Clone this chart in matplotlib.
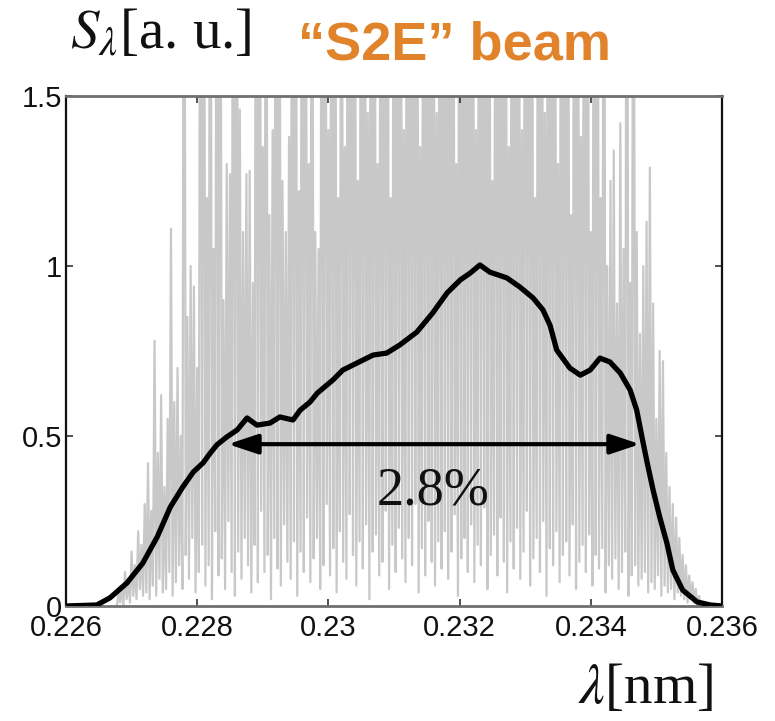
import numpy as np
import matplotlib
matplotlib.use("Agg")
import matplotlib.pyplot as plt

plt.rcParams['mathtext.fontset'] = 'stix'

# ---------------- data ----------------
xticks = [0.226, 0.228, 0.230, 0.232, 0.234, 0.236]
xtick_labels = ['0.226', '0.228', '0.23', '0.232', '0.234', '0.236']
yticks = [0, 0.5, 1.0, 1.5]
ytick_labels = ['0', '0.5', '1', '1.5']

# smoothed spectrum (black curve)
env_x = [0.22600, 0.22647, 0.22667, 0.22693, 0.22717, 0.22739, 0.22759, 0.22778,
         0.22794, 0.22809, 0.22820, 0.22830, 0.22845, 0.22861, 0.22876, 0.22891,
         0.22911, 0.22926, 0.22946, 0.22957, 0.22972, 0.22983, 0.23007, 0.23022,
         0.23044, 0.23068, 0.23089, 0.23109, 0.23135, 0.23159, 0.23181, 0.23201,
         0.23216, 0.23231, 0.23246, 0.23272, 0.23292, 0.23312, 0.23327, 0.23338,
         0.23348, 0.23368, 0.23384, 0.23399, 0.23414, 0.23429, 0.23445, 0.23460,
         0.23470, 0.23478, 0.23486, 0.23495, 0.23505, 0.23516, 0.23525, 0.23540,
         0.23562, 0.23582, 0.23600]
env_y = [0.000, 0.003, 0.024, 0.068, 0.126, 0.203, 0.291, 0.350,
         0.394, 0.421, 0.450, 0.474, 0.497, 0.518, 0.553, 0.532,
         0.538, 0.556, 0.547, 0.576, 0.600, 0.626, 0.665, 0.694,
         0.715, 0.738, 0.744, 0.768, 0.806, 0.862, 0.921, 0.959,
         0.979, 1.003, 0.982, 0.965, 0.938, 0.906, 0.871, 0.825,
         0.753, 0.700, 0.679, 0.694, 0.729, 0.718, 0.685, 0.635,
         0.576, 0.497, 0.421, 0.341, 0.262, 0.185, 0.106, 0.047,
         0.012, 0.003, 0.000]

# single-shot spiky spectrum (gray): spike peaks and the valleys between them
spike_start = 0.22680
spike_step = 0.00005
spike_peaks = [
    0.04, 0.06, 0.10, 0.08, 0.16, 0.12, 0.22, 0.18, 0.30, 0.42,
    0.28, 0.78, 0.45, 0.62, 0.35, 0.55, 1.11, 0.60, 0.70, 0.50,
    3.0, 0.85, 1.00, 0.94, 0.70, 3.0, 3.0, 1.20, 3.0, 1.05,
    3.0, 3.0, 0.90, 1.30, 1.27, 3.0, 3.0, 1.46, 1.10, 1.27,
    1.28, 0.95, 3.0, 3.0, 1.35, 3.0, 1.15, 1.40, 3.0, 3.0,
    1.25, 1.10, 1.38, 3.0, 3.0, 1.22, 3.0, 3.0, 1.30, 3.0,
    1.10, 1.05, 3.0, 3.0, 1.40, 3.0, 3.0, 1.20, 3.0, 1.35,
    3.0, 3.0, 3.0, 1.25, 3.0, 3.0, 1.45, 3.0, 3.0, 1.30,
    3.0, 3.0, 3.0, 1.20, 3.0, 3.0, 3.0, 1.40, 3.0, 3.0,
    3.0, 3.0, 1.35, 3.0, 3.0, 3.0, 3.0, 1.45, 3.0, 3.0,
    3.0, 3.0, 3.0, 1.30, 3.0, 3.0, 3.0, 3.0, 3.0, 1.40,
    3.0, 3.0, 3.0, 3.0, 1.25, 3.0, 3.0, 3.0, 3.0, 1.35,
    3.0, 3.0, 3.0, 1.40, 3.0, 3.0, 3.0, 1.20, 3.0, 3.0,
    1.45, 3.0, 3.0, 3.0, 1.30, 3.0, 3.0, 3.0, 1.15, 3.0,
    3.0, 1.38, 3.0, 3.0, 1.10, 3.0, 3.0, 1.20, 3.0, 1.00,
    1.25, 1.34, 0.89, 1.42, 1.05, 3.0, 0.95, 3.0, 1.10, 0.80,
    1.00, 1.13, 1.29, 0.89, 0.55, 0.75, 0.72, 0.45, 0.35, 0.30,
    0.26, 0.20, 0.15, 0.12, 0.09, 0.07, 0.05, 0.03]
spike_valleys = [
    0.00, 0.01, 0.00, 0.02, 0.01, 0.03, 0.02, 0.05, 0.03, 0.04,
    0.02, 0.06, 0.03, 0.08, 0.04, 0.05, 0.10, 0.03, 0.07, 0.12,
    0.05, 0.15, 0.08, 0.20, 0.04, 0.10, 0.18, 0.06, 0.12, 0.02,
    0.22, 0.09, 0.14, 0.05, 0.25, 0.10, 0.03, 0.16, 0.08, 0.20,
    0.12, 0.04, 0.18, 0.07, 0.28, 0.10, 0.15, 0.02, 0.20, 0.11,
    0.06, 0.24, 0.13, 0.08, 0.19, 0.03, 0.16, 0.10, 0.26, 0.07,
    0.14, 0.20, 0.05, 0.12, 0.30, 0.09, 0.17, 0.04, 0.22, 0.13,
    0.08, 0.27, 0.15, 0.06, 0.19, 0.11, 0.24, 0.02, 0.16, 0.21,
    0.09, 0.13, 0.28, 0.05, 0.18, 0.10, 0.23, 0.14, 0.07, 0.20,
    0.12, 0.30, 0.04, 0.17, 0.09, 0.25, 0.13, 0.06, 0.19, 0.11,
    0.22, 0.08, 0.16, 0.27, 0.03, 0.14, 0.20, 0.10, 0.24, 0.07,
    0.18, 0.12, 0.29, 0.05, 0.15, 0.21, 0.09, 0.26, 0.13, 0.04,
    0.19, 0.11, 0.23, 0.08, 0.16, 0.28, 0.06, 0.14, 0.20, 0.10,
    0.25, 0.03, 0.17, 0.12, 0.22, 0.07, 0.15, 0.19, 0.09, 0.24,
    0.05, 0.13, 0.18, 0.10, 0.21, 0.06, 0.15, 0.11, 0.17, 0.04,
    0.12, 0.08, 0.14, 0.05, 0.10, 0.16, 0.03, 0.09, 0.12, 0.06,
    0.08, 0.10, 0.04, 0.07, 0.05, 0.09, 0.03, 0.06, 0.04, 0.05,
    0.02, 0.04, 0.03, 0.02, 0.01, 0.02, 0.01, 0.00, 0.00]

# bandwidth marker
fwhm_left = 0.22847
fwhm_right = 0.23475
fwhm_level = 0.476
fwhm_label = '2.8%'

# ---------------- figure ----------------
fig = plt.figure(figsize=(7.75, 7.21), dpi=100)
ax = fig.add_axes([66/775, 1-606/721, 656/775, 510/721])

n = len(spike_peaks)
peak_x = spike_start + spike_step*np.arange(n)
valley_x = spike_start + spike_step*(np.arange(n+1) - 0.5)
gx = np.empty(2*n+1)
gy = np.empty(2*n+1)
gx[0::2] = valley_x
gx[1::2] = peak_x
gy[0::2] = spike_valleys
gy[1::2] = spike_peaks
ax.plot(gx, gy, color='#c8c8c8', lw=1.6, zorder=1)

ax.plot(env_x, env_y, color='black', lw=3.8, solid_joinstyle='round',
        solid_capstyle='round', zorder=3)

ax.annotate('', xy=(fwhm_left, fwhm_level), xytext=(fwhm_right, fwhm_level),
            arrowprops=dict(arrowstyle='<|-|>,head_length=0.9,head_width=0.3',
                            lw=3, color='black', shrinkA=0, shrinkB=0,
                            mutation_scale=20), zorder=4)
ax.text((fwhm_left+fwhm_right)/2 - 0.00001, 0.338, fwhm_label,
        family='Liberation Serif', fontsize=39, ha='center', va='center',
        color='#111111', zorder=5)

ax.set_xlim(0.226, 0.236)
ax.set_ylim(0, 1.5)
ax.set_xticks(xticks)
ax.set_xticklabels(xtick_labels)
ax.set_yticks(yticks)
ax.set_yticklabels(ytick_labels)
ax.tick_params(direction='in', length=5, width=1.2, color='#333333',
               top=True, right=True, labelsize=21)
ax.tick_params(axis='x', pad=6)
ax.tick_params(axis='y', pad=3)
for lab in ax.get_xticklabels() + ax.get_yticklabels():
    lab.set_family('Liberation Sans')
    lab.set_color('#111111')
for s in ['top', 'bottom']:
    ax.spines[s].set_color('#707070')
    ax.spines[s].set_linewidth(2.0)
for s in ['left', 'right']:
    ax.spines[s].set_color('#111111')
    ax.spines[s].set_linewidth(1.6)

fig.text(70/775, 1-48/721, r'$S_\lambda$[a. u.]', family='Liberation Serif',
         fontsize=41, ha='left', va='baseline', color='#111111')
fig.text(298/775, 1-60/721, '\u201cS2E\u201d beam', family='Liberation Sans',
         fontweight='bold', fontsize=39, ha='left', va='baseline', color='#E0832A')
fig.text(713/775, 1-703/721, r'$\lambda$[nm]', family='Liberation Serif',
         fontsize=41, ha='right', va='baseline', color='#111111')

fig.savefig('out.png', dpi=100)
